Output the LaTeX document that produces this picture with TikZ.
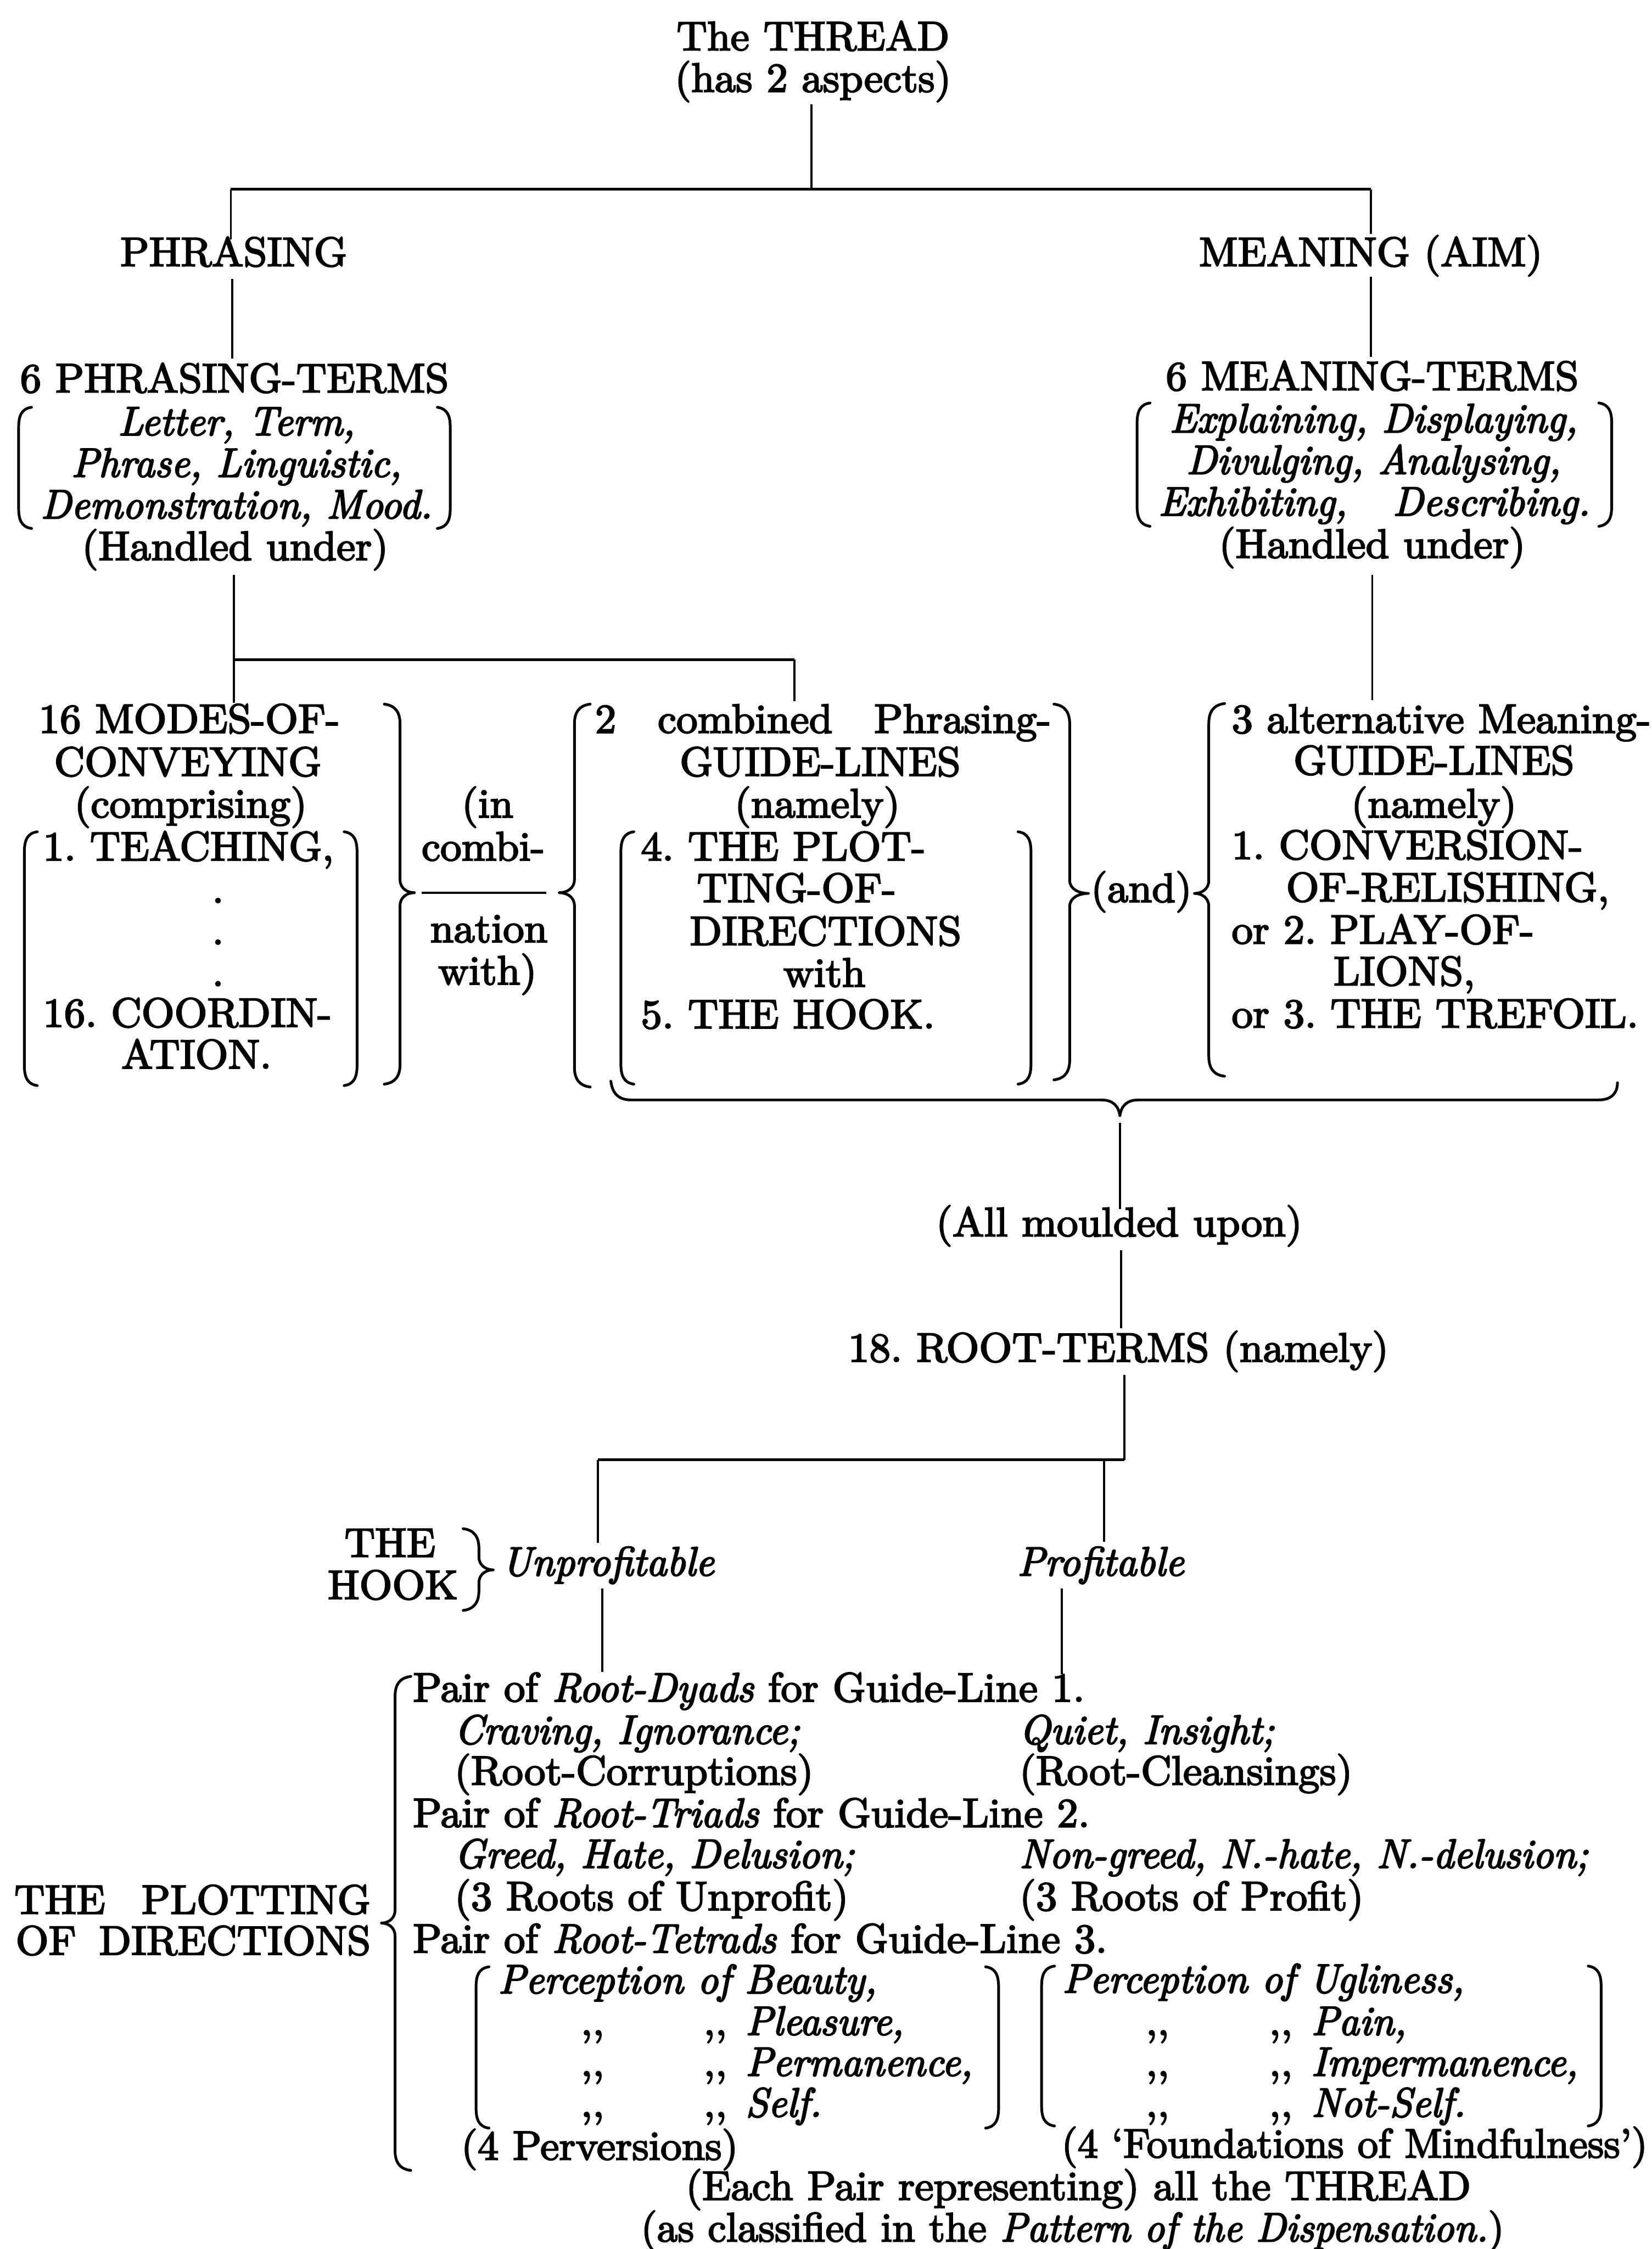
\documentclass[tikz,border=0pt]{standalone}
\usepackage{fontspec}
\usepackage{graphicx}
\setmainfont{lmroman10-regular.otf}[
  UprightFeatures={FakeStretch=1.03,FakeBold=3.2},
  ItalicFont=lmroman10-italic.otf,
  ItalicFeatures={FakeStretch=0.98,FakeBold=3.2}]
\frenchspacing
\newcommand\fs{\fontsize{28.6}{29.3}\selectfont}
\newcommand\ditto{{,}{,}}
\tikzset{
  txt/.style={inner sep=0pt, outer sep=0pt, anchor=base, font=\fs},
  txtw/.style={txt, anchor=base west},
  conn/.style={line width=1.5pt},
  brk/.style={line width=1.9pt, line cap=round, line join=round},
}
% left bracket ( : x, top, bottom
\newcommand\bkL[3]{\draw[brk] ({#1+9},#2) .. controls ({#1+2},{#2+1}) and (#1,{#2+6}) .. (#1,{#2+14}) -- (#1,{#3-14}) .. controls (#1,{#3-6}) and ({#1+2},{#3-1}) .. ({#1+9},#3);}
% right bracket ) : x, top, bottom
\newcommand\bkR[3]{\draw[brk] ({#1-9},#2) .. controls ({#1-2},{#2+1}) and (#1,{#2+6}) .. (#1,{#2+14}) -- (#1,{#3-14}) .. controls (#1,{#3-6}) and ({#1-2},{#3-1}) .. ({#1-9},#3);}
% left curly { : x, top, bottom, tip y, tip x
\newcommand\cbL[5]{\draw[brk] ({#1+11},#2) .. controls ({#1+3},{#2+1}) and (#1,{#2+6}) .. (#1,{#2+14}) -- (#1,{#4-9}) .. controls (#1,{#4-3}) and ({(#1+#5)/2},#4) .. (#5,#4) .. controls ({(#1+#5)/2},#4) and (#1,{#4+3}) .. (#1,{#4+9}) -- (#1,{#3-14}) .. controls (#1,{#3-6}) and ({#1+3},{#3-1}) .. ({#1+11},#3);}
% right curly } : x, top, bottom, tip y, tip x
\newcommand\cbR[5]{\draw[brk] ({#1-11},#2) .. controls ({#1-3},{#2+1}) and (#1,{#2+6}) .. (#1,{#2+14}) -- (#1,{#4-9}) .. controls (#1,{#4-3}) and ({(#1+#5)/2},#4) .. (#5,#4) .. controls ({(#1+#5)/2},#4) and (#1,{#4+3}) .. (#1,{#4+9}) -- (#1,{#3-14}) .. controls (#1,{#3-6}) and ({#1-3},{#3-1}) .. ({#1-11},#3);}
\begin{document}
\begin{tikzpicture}[x=1pt,y=-1pt]
\useasboundingbox (0,0) rectangle (1152,1568.3);
\fill[white] (0,0) rectangle (1152,1568.3);

% ---------- top ----------
\node[txt] (thread) at (567,35) {The THREAD};
\node[txt] (has) at (567,64) {(has 2 aspects)};
\node[txt] (phr) at (163,185.5) {PHRASING};
\node[txt] (mean) at (956,185.5) {MEANING (AIM)};
\node[txt] (pterms) at (163.5,273.5) {6 PHRASING-TERMS};
\node[txt] (mterms) at (957,272) {6 MEANING-TERMS};

\coordinate (c0) at (566,72.6);
\coordinate (c1) at (566,132);
\coordinate (c2) at (161,132);
\coordinate (c3) at (956,132);
\coordinate (c4) at (161,167);
\coordinate (c5) at (956,163);
\draw[conn] (c0) -- (c1);
\draw[line width=2pt] (c2) -- (c3);
\draw[conn] (c2) -- (c4);
\draw[conn] (c3) -- (c5);
\coordinate (c6) at (162,194.5);
\coordinate (c7) at (162,250);
\coordinate (c8) at (956,193);
\coordinate (c9) at (956,249);
\draw[conn] (c6) -- (c7);
\draw[conn] (c8) -- (c9);

% phrasing terms group
\node[txt,font=\fs\itshape] (p1) at (165,303.5) {Letter, Term,};
\node[txt,font=\fs\itshape] (p2) at (165,332.5) {Phrase, Linguistic,};
\node[txt,font=\fs\itshape] (p3) at (165,361.5) {Demonstration, Mood.};
\node[txt] (p4) at (164,390.5) {(Handled under)};
\bkL{13}{284}{368.5}
\bkR{314}{284}{368.5}

% meaning terms group
\node[txt,font=\fs\itshape] (m1) at (958,301.5) {Explaining, Displaying,};
\node[txt,font=\fs\itshape] (m2) at (958,330.5) {Divulging, Analysing,};
\node[txt,font=\fs\itshape] (m3) at (958.5,359.5) {\hbox to 301pt{Exhibiting,\hfill Describing.}};
\node[txt] (m4) at (957,389) {(Handled under)};
\bkL{793}{281}{367}
\bkR{1124}{281}{367}

% connectors down to middle row
\coordinate (d0) at (163,401);
\coordinate (d1) at (163,460);
\coordinate (d2) at (163,490);
\coordinate (d3) at (554,460);
\coordinate (d4) at (554,489);
\coordinate (d5) at (957,401);
\coordinate (d6) at (957,488);
\draw[conn] (d0) -- (d2);
\draw[line width=1.8pt] (d1) -- (d3);
\draw[conn] (d3) -- (d4);
\draw[conn] (d5) -- (d6);

% ---------- middle row ----------
\node[txt] (mo1) at (132,511) {16 MODES-OF-};
\node[txt] (mo2) at (131,541) {CONVEYING};
\node[txt] (mo3) at (133,570) {(comprising)};
\node[txtw] (mo4) at (30,600) {1. TEACHING,};
\node[txt] (dot1) at (152,629.5) {.};
\node[txt] (dot2) at (152,658.5) {.};
\node[txt] (dot3) at (152,687.5) {.};
\node[txtw] (mo5) at (30,716) {16. COORDIN-};
\node[txt] (mo6) at (137,745) {ATION.};
\bkL{17}{580}{757}
\bkR{249}{580}{757}
\cbR{279}{491}{756}{622.5}{289}

\node[txt] (in1) at (340,570) {(in};
\node[txt] (in2) at (337,600) {combi-};
\node[txt] (in3) at (341,657) {nation};
\node[txt] (in4) at (340,686.5) {with)};
\draw[conn] (294,622.5) -- (381,622.5);

\cbL{400.6}{491}{758}{622.5}{390}
\node[txtw] (g1) at (415,511) {\hbox to 318pt{2\hfill combined\hfill Phrasing-}};
\node[txt] (g2) at (572,541) {GUIDE-LINES};
\node[txt] (g3) at (570,570) {(namely)};
\node[txtw] (g4) at (447,600) {4. THE PLOT-};
\node[txtw] (g5) at (486,629) {TING-OF-};
\node[txtw] (g6) at (481,659) {DIRECTIONS};
\node[txt] (g7) at (575,688) {with};
\node[txtw] (g8) at (447,717) {5. THE HOOK.};
\bkL{433}{580}{756}
\bkR{719}{580}{756}
\cbR{746}{491}{753}{623}{759}

\node[txt] (and) at (796,629) {(and)};

\cbL{843}{490.6}{750.5}{623}{833}
\node[txtw] (r1) at (859,511) {3 alternative Meaning-};
\node[txt] (r2) at (1000,540) {GUIDE-LINES};
\node[txt] (r3) at (1000,570) {(namely)};
\node[txtw] (r4) at (859,599) {1.\hspace{0.35em}CONVERSION-};
\node[txtw] (r5) at (897,628.5) {OF-RELISHING,};
\node[txtw] (r6) at (859,658) {or 2. PLAY-OF-};
\node[txtw] (r7) at (930,687) {LIONS,};
\node[txtw] (r8) at (859,716.5) {or 3. THE TREFOIL.};

% under-brace
\draw[brk] (426,754) .. controls (427,762) and (431,767) .. (440,767) -- (768,767)
  .. controls (776,767) and (780,771) .. (781,778)
  .. controls (782,771) and (786,767) .. (794,767) -- (1115,767)
  .. controls (1124,767) and (1128,762) .. (1128,755);

% ---------- lower part ----------
\coordinate (e0) at (781,783);
\coordinate (e1) at (781,843);
\draw[conn] (e0) -- (e1);
\node[txt] (moulded) at (780.5,862) {(All moulded upon)};
\coordinate (e2) at (782,872);
\coordinate (e3) at (782,926);
\draw[conn] (e2) -- (e3);
\node[txt] (root) at (780,949.5) {18. ROOT-TERMS (namely)};
\coordinate (e4) at (784,958.6);
\coordinate (e5) at (784,1018);
\coordinate (e6) at (417,1018);
\coordinate (e7) at (417,1076);
\coordinate (e8) at (770,1018);
\coordinate (e9) at (770,1075);
\draw[conn] (e4) -- (e5);
\draw[line width=1.8pt] (e5) -- (e6);
\draw[conn] (e6) -- (e7);
\draw[conn] (e8) -- (e9);

\node[txt] (hk1) at (272,1085.6) {THE};
\node[txt] (hk2) at (274,1115) {HOOK};
\cbR{334}{1066}{1123}{1094.7}{344}
\node[txtw,font=\fs\itshape] (unp) at (350,1098.7) {Unprofitable};
\node[txt,font=\fs\itshape] (prof) at (767.6,1098.7) {Profitable};

\coordinate (f0) at (420,1107.6);
\coordinate (f1) at (420,1166);
\coordinate (f2) at (740.5,1107.6);
\coordinate (f3) at (740.5,1167.5);
\draw[conn] (f0) -- (f1);
\draw[conn] (f2) -- (f3);

% plotting of directions
\node[txtw] (pl1) at (10,1334.5) {\hbox to 248.5pt{THE\hfill PLOTTING}};
\node[txtw] (pl2) at (11,1363) {\hbox to 247.5pt{OF\hfill DIRECTIONS}};
\cbL{275.5}{1169}{1513.5}{1341}{266}

\node[txtw] (dy1) at (288,1186.5) {Pair of \textit{Root-Dyads} for Guide-Line 1.};
\node[txtw,font=\fs\itshape] (dy2) at (317,1216) {Craving, Ignorance;};
\node[txtw,font=\fs\itshape] (dy3) at (711,1216) {Quiet, Insight;};
\node[txtw] (dy4) at (317,1244.5) {(Root-Corruptions)};
\node[txtw] (dy5) at (711,1244.5) {(Root-Cleansings)};

\node[txtw] (tr1) at (288,1274) {Pair of \textit{Root-Triads} for Guide-Line 2.};
\node[txtw,font=\fs\itshape] (tr2) at (317,1302.5) {Greed, Hate, Delusion;};
\node[txtw,font=\fs\itshape] (tr3) at (711,1302.5) {Non-greed, N.-hate, N.-delusion;};
\node[txtw] (tr4) at (317,1332) {(3 Roots of Unprofit)};
\node[txtw] (tr5) at (711,1332) {(3 Roots of Profit)};

\node[txtw] (te1) at (288,1361.6) {Pair of \textit{Root-Tetrads} for Guide-Line 3.};

\bkL{332}{1371.5}{1484}
\bkR{696.4}{1371.5}{1484}
\node[txtw,font=\fs\itshape] (q1) at (347.5,1390) {Perception of Beauty,};
\node[txtw] (q2a) at (405,1419) {\ditto};
\node[txtw] (q2b) at (490.6,1419) {\ditto};
\node[txtw,font=\fs\itshape] (q2) at (520,1419) {Pleasure,};
\node[txtw] (q3a) at (405,1447.5) {\ditto};
\node[txtw] (q3b) at (490.6,1447.5) {\ditto};
\node[txtw,font=\fs\itshape] (q3) at (520,1447.5) {Permanence,};
\node[txtw] (q4a) at (405,1476) {\ditto};
\node[txtw] (q4b) at (490.6,1476) {\ditto};
\node[txtw,font=\fs\itshape] (q4) at (520,1476) {Self.};

\bkL{726.4}{1371}{1482.5}
\bkR{1116.6}{1371}{1482.5}
\node[txtw,font=\fs\itshape] (u1) at (741,1389.5) {Perception of Ugliness,};
\node[txtw] (u2a) at (799,1419) {\ditto};
\node[txtw] (u2b) at (885,1419) {\ditto};
\node[txtw,font=\fs\itshape] (u2) at (914.6,1419) {Pain,};
\node[txtw] (u3a) at (799,1447.5) {\ditto};
\node[txtw] (u3b) at (885,1447.5) {\ditto};
\node[txtw,font=\fs\itshape] (u3) at (914.6,1447.5) {Impermanence,};
\node[txtw] (u4a) at (799,1476) {\ditto};
\node[txtw] (u4b) at (885,1476) {\ditto};
\node[txtw,font=\fs\itshape] (u4) at (914.6,1476) {Not-Self.};

\node[txtw] (pv) at (321.6,1506) {(4 Perversions)};
\node[txt,anchor=base east] (fm) at (1149,1504.5) {\scalebox{0.975}[1]{(4 \textquoteleft Foundations of Mindfulness\textquoteright)}};
\node[txt] (each) at (752,1534) {(Each Pair representing) all the THREAD};
\node[txt] (cls) at (748,1563) {\scalebox{0.98}[1]{(as classified in the \textit{Pattern of the Dispensation.})}};
\end{tikzpicture}
\end{document}
